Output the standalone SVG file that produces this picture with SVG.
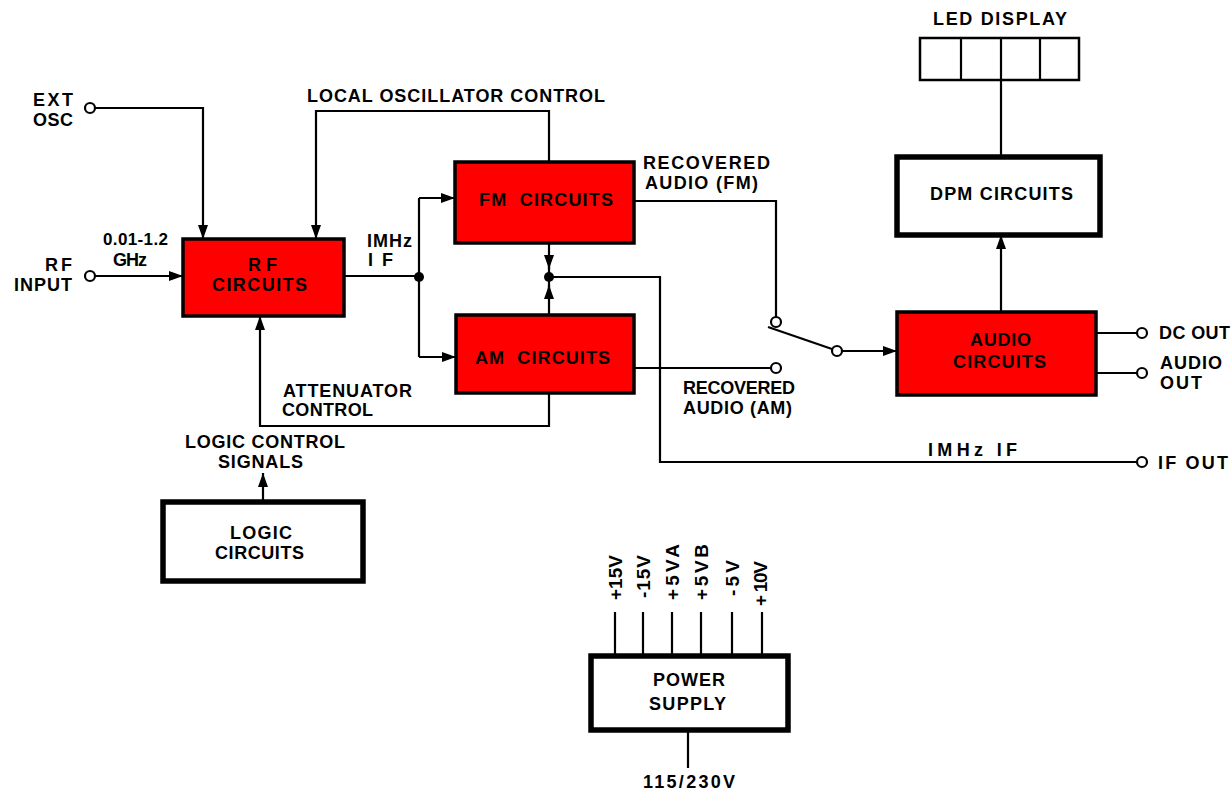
<svg xmlns="http://www.w3.org/2000/svg" width="1231" height="793" viewBox="0 0 1231 793">
<defs>
<marker id="arr" markerUnits="userSpaceOnUse" markerWidth="15" markerHeight="11" refX="14" refY="5.5" orient="auto">
<path d="M0,0.5 L14,5.5 L0,10.5 Z" fill="#000"/>
</marker>
<style>
text{font-family:"Liberation Sans",Arial,sans-serif;font-weight:bold;font-size:18px;fill:#000;white-space:pre}
.rot{font-size:19px}
.red{fill:#ff0000;stroke:#000;stroke-width:3.5}
.wht{fill:#fff;stroke:#000;stroke-width:5.5}
.ln{fill:none;stroke:#000;stroke-width:2.2}
.ar{fill:none;stroke:#000;stroke-width:2.2;marker-end:url(#arr)}
.term{fill:#fff;stroke:#000;stroke-width:2.2}
.dot{fill:#000}
</style>
</defs>
<rect width="1231" height="793" fill="#fff"/>

<g id="connectors">
<path class="ar" d="M95,108 H203 V239"/>
<path class="ar" d="M95,276 H183"/>
<path class="ar" d="M549,162 V111 H316 V239"/>
<path class="ln" d="M344,276 H419"/>
<path class="ln" d="M419,198 V357"/>
<path class="ar" d="M419,198 H455"/>
<path class="ar" d="M419,357 H456"/>
<path class="ar" d="M549,243 V269"/>
<path class="ar" d="M549,315 V285"/>
<path class="ln" d="M549,265 V290"/>
<path class="ln" d="M549,277 H660 V462 H1137"/>
<path class="ar" d="M549,393 V426 H260 V316"/>
<path class="ar" d="M263,502 V473"/>
<path class="ln" d="M634,201 H776 V317"/>
<path class="ln" d="M768,327 L832,349"/>
<path class="ar" d="M842,351 H897"/>
<path class="ln" d="M634,368 H771"/>
<path class="ar" d="M1001,312 V235"/>
<path class="ln" d="M1001,80 V157"/>
<path class="ln" d="M1096,333 H1137"/>
<path class="ln" d="M1096,373 H1137"/>
<path class="ln" d="M615,612 V656 M643,612 V656 M672,612 V656 M701,612 V656 M732,612 V656 M762,612 V656"/>
<path class="ln" d="M688,730 V768"/>
<circle class="dot" cx="419" cy="277" r="5"/>
<circle class="dot" cx="549" cy="277" r="5"/>
<circle class="term" cx="90" cy="108" r="5"/>
<circle class="term" cx="90" cy="276" r="5"/>
<circle class="term" cx="776" cy="322" r="5"/>
<circle class="term" cx="837" cy="351" r="5"/>
<circle class="term" cx="776" cy="368" r="5"/>
<circle class="term" cx="1142" cy="333" r="5"/>
<circle class="term" cx="1142" cy="373" r="5"/>
<circle class="term" cx="1142" cy="462" r="5"/>
</g>

<g id="labels">
<text x="33" y="106" textLength="40" lengthAdjust="spacing">EXT</text>
<text x="33" y="126" textLength="40" lengthAdjust="spacing">OSC</text>
<text x="45" y="271" textLength="27" lengthAdjust="spacing">RF</text>
<text x="14" y="291" textLength="58" lengthAdjust="spacing">INPUT</text>
<text x="103" y="245" textLength="65" lengthAdjust="spacing" style="font-size:17px">0.01-1.2</text>
<text x="113" y="266" textLength="34" lengthAdjust="spacing">GHz</text>
<text x="367" y="247" textLength="45" lengthAdjust="spacing">IMHz</text>
<text x="368" y="266" textLength="25" lengthAdjust="spacing">IF</text>
<text x="307" y="102" textLength="298" lengthAdjust="spacing">LOCAL OSCILLATOR CONTROL</text>
<text x="283" y="397" textLength="129" lengthAdjust="spacing">ATTENUATOR</text>
<text x="282" y="416" textLength="91" lengthAdjust="spacing">CONTROL</text>
<text x="185" y="448" textLength="160" lengthAdjust="spacing">LOGIC CONTROL</text>
<text x="218" y="468" textLength="85" lengthAdjust="spacing">SIGNALS</text>
<text x="643" y="169" textLength="127" lengthAdjust="spacing">RECOVERED</text>
<text x="645" y="189" textLength="113" lengthAdjust="spacing">AUDIO (FM)</text>
<text x="683" y="394" textLength="112" lengthAdjust="spacing">RECOVERED</text>
<text x="683" y="414" textLength="109" lengthAdjust="spacing">AUDIO (AM)</text>
<text x="1159" y="339" textLength="71" lengthAdjust="spacing">DC OUT</text>
<text x="1160" y="369" textLength="62" lengthAdjust="spacing">AUDIO</text>
<text x="1160" y="389" textLength="42" lengthAdjust="spacing">OUT</text>
<text x="1158" y="469" textLength="70" lengthAdjust="spacing">IF OUT</text>
<text x="928" y="456" textLength="89" lengthAdjust="spacing">IMHz IF</text>
<text x="933" y="25" textLength="134" lengthAdjust="spacing">LED DISPLAY</text>
<text x="643" y="788" textLength="92" lengthAdjust="spacing">115/230V</text>
<text class="rot" transform="translate(622,600) rotate(-90)" textLength="45" lengthAdjust="spacing">+15V</text>
<text class="rot" transform="translate(650,598) rotate(-90)" textLength="43" lengthAdjust="spacing">-15V</text>
<text class="rot" transform="translate(679,600) rotate(-90)" textLength="56" lengthAdjust="spacing">+5VA</text>
<text class="rot" transform="translate(708,600) rotate(-90)" textLength="56" lengthAdjust="spacing">+5VB</text>
<text class="rot" transform="translate(739,596) rotate(-90)" textLength="36" lengthAdjust="spacing">-5V</text>
<text class="rot" transform="translate(767,606) rotate(-90)" textLength="45" lengthAdjust="spacing">+ 10V</text>
</g>

<g id="rf-circuits">
<rect class="red" x="183" y="239" width="161" height="77"/>
<text x="248" y="271" textLength="29" lengthAdjust="spacing">RF</text>
<text x="212" y="291" textLength="95" lengthAdjust="spacing">CIRCUITS</text>
</g>

<g id="fm-circuits">
<rect class="red" x="455" y="162" width="179" height="81"/>
<text x="479" y="206" textLength="134" lengthAdjust="spacing">FM  CIRCUITS</text>
</g>

<g id="am-circuits">
<rect class="red" x="456" y="315" width="178" height="78"/>
<text x="475" y="364" textLength="135" lengthAdjust="spacing">AM  CIRCUITS</text>
</g>

<g id="audio-circuits">
<rect class="red" x="897" y="312" width="199" height="83"/>
<text x="970" y="346" textLength="61" lengthAdjust="spacing">AUDIO</text>
<text x="953" y="368" textLength="93" lengthAdjust="spacing">CIRCUITS</text>
</g>

<g id="dpm-circuits">
<rect class="wht" x="897" y="157" width="203" height="78"/>
<text x="930" y="200" textLength="143" lengthAdjust="spacing">DPM CIRCUITS</text>
</g>

<g id="led-display">
<rect x="920" y="38" width="159" height="42" fill="#fff" stroke="#000" stroke-width="2.5"/>
<path class="ln" d="M961,38 V80 M1001,38 V80 M1040,38 V80" stroke-width="2.5"/>
</g>

<g id="logic-circuits">
<rect class="wht" x="163" y="502" width="200" height="79"/>
<text x="230" y="539" textLength="62" lengthAdjust="spacing">LOGIC</text>
<text x="215" y="559" textLength="89" lengthAdjust="spacing">CIRCUITS</text>
</g>

<g id="power-supply">
<rect class="wht" x="591" y="656" width="197" height="74"/>
<text x="653" y="686" textLength="72" lengthAdjust="spacing">POWER</text>
<text x="649" y="710" textLength="77" lengthAdjust="spacing">SUPPLY</text>
</g>
</svg>
